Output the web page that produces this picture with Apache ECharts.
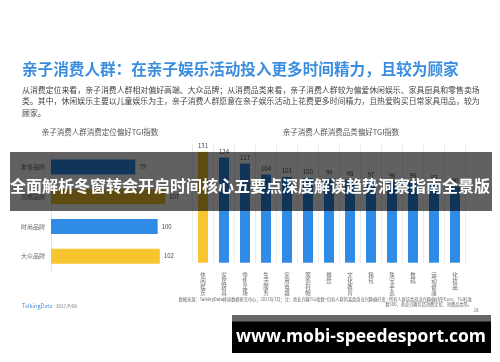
<!DOCTYPE html>
<html><head><meta charset="utf-8">
<script src="https://cdn.jsdelivr.net/npm/echarts@6/dist/echarts.min.js"></script>
<style>html,body{margin:0;padding:0;background:#fff}#c{width:500px;height:362px}</style>
</head><body><div id="c"></div>
<script>
const leftCats = ['奢侈品牌','高端品牌','时尚品牌','大众品牌'];
const leftVals = [79,107,100,102];
const rightCats = ['休闲娱乐','家居厨具','零售卖场','生活服务','家用电器','服饰鞋帽','餐饮','文化教育','箱包','珠宝手表','数码','运动健康','化妆品'];
const rightVals = [131,124,117,104,101,100,99,98,97,96,95,93,90];
const titleText = '亲子消费人群：在亲子娱乐活动投入更多时间精力，且较为顾家';
const bodyLines = [
 '从消费定位来看，亲子消费人群相对偏好高端、大众品牌；从消费品类来看，亲子消费人群较为偏爱休闲娱乐、家具厨具和零售卖场',
 '类。其中，休闲娱乐主要以儿童娱乐为主，亲子消费人群愿意在亲子娱乐活动上花费更多时间精力，且热爱购买日常家具用品，较为',
 '顾家。'
];
const leftTitle = '亲子消费人群消费定位偏好TGI指数';
const rightTitle = '亲子消费人群消费品类偏好TGI指数';
const sourceLines = ['数据来源：TalkingData移动数据研究中心，2017年7月；注：商业兴趣TGI指数=目标人群的某类商业兴趣偏好度 / 所有人群该类商业兴趣偏好度X100，TGI标准',
 '数100，商业兴趣包括消费定位、消费品类等。'];
const bannerText = '全面解析冬窗转会开启时间核心五要点深度解读趋势洞察指南全景版';
const watermark = 'www.mobi-speedesport.com';

const BLUE = '#2f8be6', YELLOW = '#f7c530';
const leftColors = [BLUE, YELLOW, BLUE, YELLOW];
const rightColors = rightVals.map((v,i)=> i===0 ? YELLOW : BLUE);
const FF = '"Noto Sans CJK SC", "Noto Sans", sans-serif';

const chart = echarts.init(document.getElementById('c'), null, {renderer:'canvas'});
const txt = (text, x, y, size, color) => ({
  type:'text', z:10, style:{text, x, y, fontSize:size, fill:color, fontFamily:FF, textVerticalAlign:'middle', textAlign:'left'}
});

const graphics = [
  {type:'text', z:10, style:{text:titleText,x:22,y:69,fontSize:15.6,fontWeight:'bold',fill:'#3a8ee0',fontFamily:FF,textVerticalAlign:'middle'}},
  ...bodyLines.map((t,i)=>txt(t, 22, 90 + i*11.3, 7.9, '#444')),
  {type:'text', z:10, style:{text:leftTitle, x:100, y:132, fontSize:7.5, fill:'#555', fontFamily:FF, textAlign:'center', textVerticalAlign:'middle'}},
  {type:'text', z:10, style:{text:rightTitle, x:341, y:132, fontSize:7.5, fill:'#555', fontFamily:FF, textAlign:'center', textVerticalAlign:'middle'}},
  {type:'text', z:10, style:{text:sourceLines[0], x:472, y:299, fontSize:4.2, fill:'#666', fontFamily:FF, textAlign:'right', textVerticalAlign:'middle'}},
  {type:'text', z:10, style:{text:sourceLines[1], x:472, y:304, fontSize:4.2, fill:'#666', fontFamily:FF, textAlign:'right', textVerticalAlign:'middle'}},
  {type:'text', z:10, style:{text:'28', x:476, y:310, fontSize:4.5, fill:'#777', fontFamily:FF, textAlign:'center', textVerticalAlign:'middle'}},
  {type:'text', z:10, style:{text:'TalkingData', x:22, y:306, fontSize:5.5, fill:'#4a8fd6', fontFamily:FF, textVerticalAlign:'middle'}},
  {type:'text', z:10, style:{text:'2017/9/06', x:56, y:306, fontSize:4.5, fill:'#777', fontFamily:FF, textVerticalAlign:'middle'}},
  {type:'rect', z:100, shape:{x:10, y:152, width:482, height:59}, style:{fill:'rgba(0,0,0,0.62)'}},
  {type:'text', z:101, style:{text:bannerText, x:250, y:186, fontSize:16, fontWeight:'bold', fill:'#fff', fontFamily:FF, textAlign:'center', textVerticalAlign:'middle'}},
  {type:'rect', z:100, shape:{x:232, y:315, width:259, height:7}, style:{fill:'#666'}},
  {type:'rect', z:100, shape:{x:232, y:321.5, width:259, height:31.5}, style:{fill:'#000'}},
  {type:'text', z:101, style:{text:watermark, x:361, y:337, fontSize:17.5, fontWeight:'bold', fill:'#fff', fontFamily:'"Open Sans", "DejaVu Sans", sans-serif', textAlign:'center', textVerticalAlign:'middle'}}
];

chart.setOption({
  animation:false,
  backgroundColor:'#fff',
  textStyle:{fontFamily:FF},
  graphic:graphics,
  grid:[
    {left:51, top:152, width:128, height:119},
    {left:192.5, top:144, right:34.5, height:118.7}
  ],
  xAxis:[
    {gridIndex:0, type:'value', min:0, max:120, show:false},
    {gridIndex:1, type:'category', data:rightCats,
     axisLine:{show:false}, axisTick:{show:false},
     splitLine:{show:true, lineStyle:{color:'#ececec', width:1}},
     axisLabel:{fontSize:5.5, color:'#666', lineHeight:6.2, margin:9, interval:0,
       formatter:v=>v.split('').join('\n')}}
  ],
  yAxis:[
    {gridIndex:0, type:'category', data:leftCats, inverse:true,
     axisLine:{show:true, lineStyle:{color:'#e6e6e6'}}, axisTick:{show:false},
     axisLabel:{fontSize:6, color:'#666', margin:6}},
    {gridIndex:1, type:'value', min:0, max:140, show:false}
  ],
  series:[
    {type:'bar', xAxisIndex:0, yAxisIndex:0, data:leftVals.map((v,i)=>({value:v, itemStyle:{color:leftColors[i]}})),
     barWidth:15, label:{show:true, position:'right', fontSize:6, color:'#444', distance:4}},
    {type:'bar', xAxisIndex:1, yAxisIndex:1, data:rightVals.map((v,i)=>({value:v, itemStyle:{color:rightColors[i]}})),
     barWidth:10, label:{show:true, position:'top', fontSize:6, color:'#444', distance:3}}
  ]
});
</script></body></html>
